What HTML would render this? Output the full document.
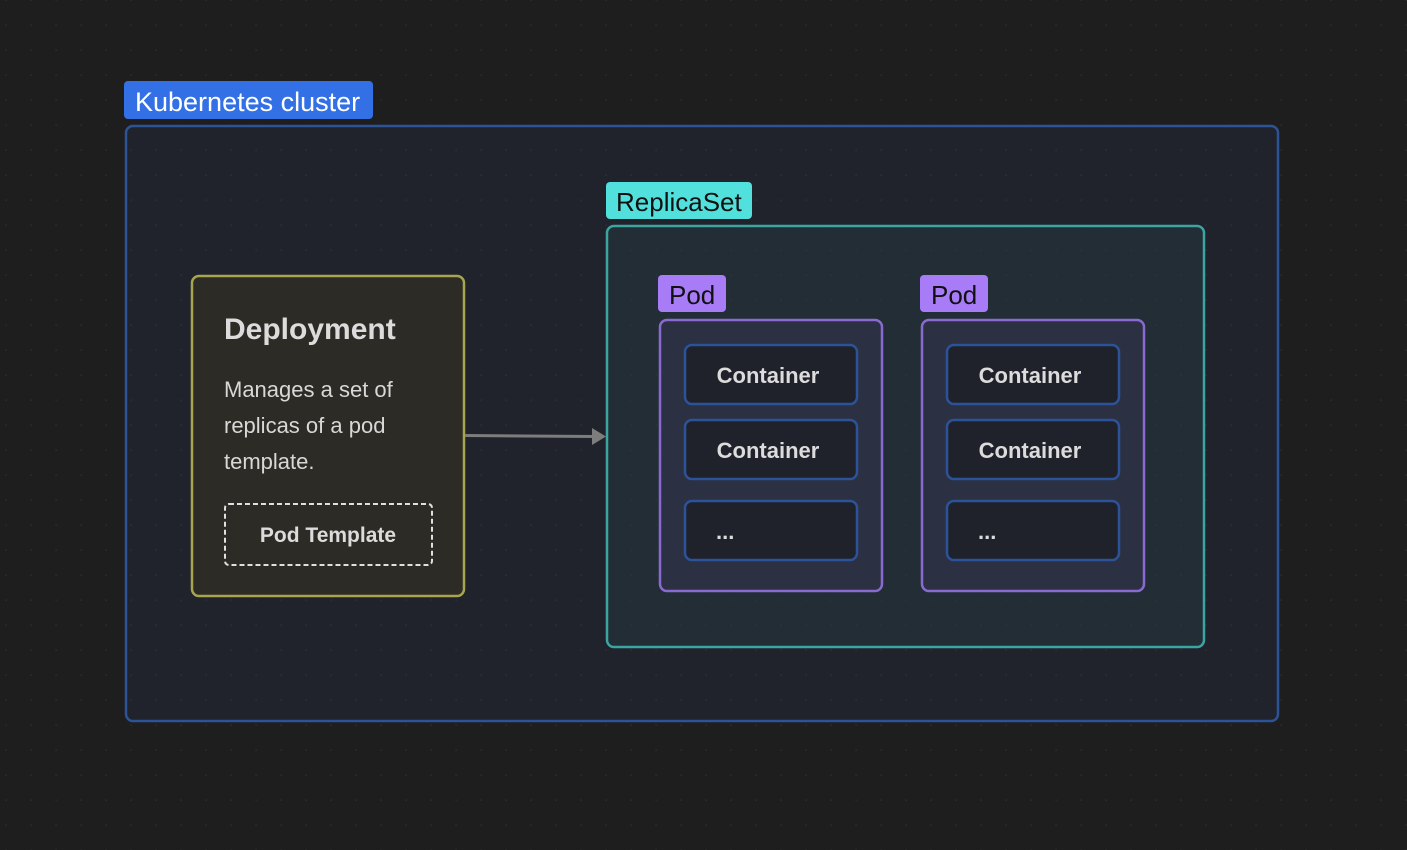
<!DOCTYPE html>
<html><head><meta charset="utf-8"><style>
html,body{margin:0;padding:0;width:1407px;height:850px;overflow:hidden;background:#1e1e1e;}
svg{display:block}
text{font-family:"Liberation Sans",sans-serif;}
</style></head><body>
<svg width="1407" height="850" viewBox="0 0 1407 850" xmlns="http://www.w3.org/2000/svg">
<defs>
<pattern id="dots" x="5.5" y="-0.5" width="25" height="25" patternUnits="userSpaceOnUse">
<rect x="0" y="0" width="1.2" height="1.2" fill="#33363d"/>
</pattern>
</defs>
<rect width="1407" height="850" fill="#1e1e1e"/>
<rect width="1407" height="850" fill="url(#dots)"/>

<rect x="126" y="126" width="1152" height="595" rx="7" fill="#20232c" stroke="#2c5298" stroke-width="2.5"/>
<rect x="126" y="126" width="1152" height="595" rx="7" fill="url(#dots)"/>
<rect x="124" y="81" width="249" height="38" rx="4" fill="#3370e6"/>
<text x="135" y="111" font-size="27" fill="#ffffff">Kubernetes cluster</text>

<rect x="192" y="276" width="272" height="320" rx="7" fill="#2c2b25" stroke="#a7a550" stroke-width="2.5"/>
<text x="224" y="339" font-size="30" font-weight="bold" fill="#dcdcdc">Deployment</text>
<text x="224" y="397" font-size="22" fill="#d8d8d8">Manages a set of</text>
<text x="224" y="433" font-size="22" fill="#d8d8d8">replicas of a pod</text>
<text x="224" y="469" font-size="22" fill="#d8d8d8">template.</text>
<rect x="225" y="504" width="207" height="61" rx="4" fill="none" stroke="#e0e0e0" stroke-width="2" stroke-dasharray="5,3"/>
<text x="328" y="542" font-size="21" font-weight="bold" fill="#dcdcdc" text-anchor="middle">Pod Template</text>

<line x1="465" y1="435.5" x2="594" y2="436.5" stroke="#7d7d7d" stroke-width="3"/>
<polygon points="592,428 606,436.5 592,445" fill="#7d7d7d"/>

<rect x="607" y="226" width="597" height="421" rx="7" fill="#222d35" stroke="#3aa5a1" stroke-width="2.5"/>
<rect x="607" y="226" width="597" height="421" rx="7" fill="url(#dots)"/>
<rect x="606" y="182" width="146" height="37" rx="4" fill="#52e0dd"/>
<text x="616" y="211" font-size="26" fill="#111">ReplicaSet</text>

<g>
<rect x="658" y="275" width="68" height="37" rx="4" fill="#a87cf7"/>
<text x="669" y="304" font-size="26" fill="#111">Pod</text>
<rect x="660" y="320" width="222" height="271" rx="7" fill="#2b3142" stroke="#8a6ad0" stroke-width="2.5"/>
<rect x="685" y="345" width="172" height="59" rx="7" fill="#1f222b" stroke="#2c5399" stroke-width="2.5"/>
<text x="768" y="383" font-size="22" font-weight="bold" fill="#dcdcdc" text-anchor="middle">Container</text>
<rect x="685" y="420" width="172" height="59" rx="7" fill="#1f222b" stroke="#2c5399" stroke-width="2.5"/>
<text x="768" y="458" font-size="22" font-weight="bold" fill="#dcdcdc" text-anchor="middle">Container</text>
<rect x="685" y="501" width="172" height="59" rx="7" fill="#1f222b" stroke="#2c5399" stroke-width="2.5"/>
<text x="716" y="539" font-size="22" font-weight="bold" fill="#dcdcdc">...</text>
</g>
<g transform="translate(262,0)">
<rect x="658" y="275" width="68" height="37" rx="4" fill="#a87cf7"/>
<text x="669" y="304" font-size="26" fill="#111">Pod</text>
<rect x="660" y="320" width="222" height="271" rx="7" fill="#2b3142" stroke="#8a6ad0" stroke-width="2.5"/>
<rect x="685" y="345" width="172" height="59" rx="7" fill="#1f222b" stroke="#2c5399" stroke-width="2.5"/>
<text x="768" y="383" font-size="22" font-weight="bold" fill="#dcdcdc" text-anchor="middle">Container</text>
<rect x="685" y="420" width="172" height="59" rx="7" fill="#1f222b" stroke="#2c5399" stroke-width="2.5"/>
<text x="768" y="458" font-size="22" font-weight="bold" fill="#dcdcdc" text-anchor="middle">Container</text>
<rect x="685" y="501" width="172" height="59" rx="7" fill="#1f222b" stroke="#2c5399" stroke-width="2.5"/>
<text x="716" y="539" font-size="22" font-weight="bold" fill="#dcdcdc">...</text>
</g>
</svg>
</body></html>
